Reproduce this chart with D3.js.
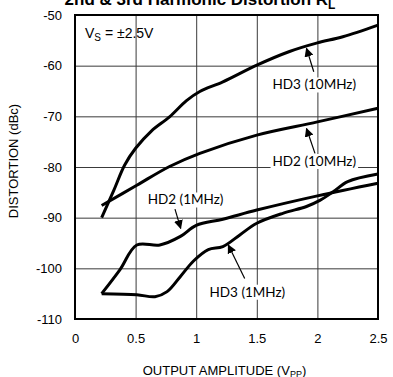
<!DOCTYPE html>
<html lang="en">
<head>
    <meta charset="UTF-8">
    <title>2nd &amp; 3rd Harmonic Distortion</title>
    <script src="https://d3js.org/d3.v7.min.js"></script>
    <style>
        html, body {
            margin: 0;
            padding: 0;
            background: #fff;
        }
        svg {
            display: block;
            font-family: "Liberation Sans", Arial, sans-serif;
        }
        .grid line {
            stroke: #3a3a3a;
            stroke-width: 1px;
        }
        .grid .domain {
            display: none;
        }
        .tick text {
            font-size: 13px;
            fill: #000;
        }
        .curve {
            fill: none;
            stroke: #000;
            stroke-width: 3px;
            stroke-linejoin: round;
        }
        .note text {
            font-family: Lato, "Open Sans", sans-serif;
            font-size: 13.5px;
        }
    </style>
</head>
<body>
    <svg width="393" height="377"></svg>

    <script>
        // values (x = output amplitude Vpp, y = dBc)
        const hd3_10MHz_x = [0.22, 0.32, 0.41, 0.50, 0.63, 0.78, 0.92, 1.03, 1.22, 1.50, 1.77, 2.00, 2.21, 2.50];
        const hd3_10MHz_y = [-90, -84.6, -79.6, -76.3, -72.9, -70.1, -66.9, -65.1, -63.2, -59.9, -57.2, -55.5, -54.3, -52];

        const hd2_10MHz_x = [0.22, 0.51, 0.78, 1.03, 1.50, 2.00, 2.50];
        const hd2_10MHz_y = [-87.6, -83.6, -79.9, -77.3, -73.7, -71.1, -68.4];

        const hd2_1MHz_x = [0.22, 0.37, 0.51, 0.70, 0.87, 1.00, 1.22, 1.50, 2.00, 2.50];
        const hd2_1MHz_y = [-105, -100.3, -95.4, -95.4, -93.7, -91.5, -90.3, -88.5, -85.7, -83.2];

        const hd3_1MHz_x = [0.22, 0.51, 0.66, 0.76, 0.87, 0.98, 1.10, 1.22, 1.36, 1.50, 1.72, 1.91, 2.02, 2.13, 2.25, 2.50];
        const hd3_1MHz_y = [-105, -105.2, -105.6, -104.6, -101.6, -98.5, -96.3, -95.7, -93.4, -91.1, -89.1, -87.8, -86.6, -84.9, -82.9, -81.4];

        const xTicks = [0, 0.5, 1, 1.5, 2, 2.5];
        const yTicks = [-50, -60, -70, -80, -90, -100, -110];

        const svg = d3.select("svg"),
            W = +svg.attr("width"),
            H = +svg.attr("height");

        const margin = { top: 15, right: 15, bottom: 58, left: 75 };
        const w = W - margin.left - margin.right,
            h = H - margin.top - margin.bottom;

        const x = d3.scaleLinear().domain([0, 2.5]).range([0, w]);
        const y = d3.scaleLinear().domain([-110, -50]).range([h, 0]);

        const g = svg.append("g")
            .attr("transform", `translate(${margin.left},${margin.top})`);

        // grid lines (ticks stretched across the plot)
        g.append("g")
            .attr("class", "grid")
            .attr("transform", `translate(0,${h})`)
            .call(d3.axisBottom(x).tickValues(xTicks).tickSize(-h).tickPadding(15)
                .tickFormat(d => d));

        g.append("g")
            .attr("class", "grid")
            .call(d3.axisLeft(y).tickValues(yTicks).tickSize(-w).tickPadding(13)
                .tickFormat(d => d));

        // frame
        g.append("rect")
            .attr("width", w)
            .attr("height", h)
            .attr("fill", "none")
            .attr("stroke", "#000")
            .attr("stroke-width", 2);

        const series = [
            [hd3_10MHz_x, hd3_10MHz_y],
            [hd2_10MHz_x, hd2_10MHz_y],
            [hd2_1MHz_x, hd2_1MHz_y],
            [hd3_1MHz_x, hd3_1MHz_y]
        ];

        const line = d3.line()
            .x(d => x(d[0]))
            .y(d => y(d[1]))
            .curve(d3.curveCatmullRom.alpha(0.5));

        g.selectAll(".curve")
            .data(series.map(s => s[0].map((v, i) => [v, s[1][i]])))
            .enter().append("path")
            .attr("class", "curve")
            .attr("d", line);

        // curve labels with arrows; label box is white so grid breaks behind it
        // (tx,ty) text start, (bx,by) arrow tail, (ax,ay) arrow tip -- all in data units
        const notes = [
            { text: "HD3 (10MHz)", tx: 1.63, ty: -64.7, bx: 1.97, by: -61.2, ax: 1.91, ay: -56.6 },
            { text: "HD2 (10MHz)", tx: 1.63, ty: -79.8, bx: 1.98, by: -77.3, ax: 1.91, ay: -72.4 },
            { text: "HD2 (1MHz)", tx: 0.60, ty: -87.4, bx: 0.825, by: -88.3, ax: 0.872, ay: -92.1 },
            { text: "HD3 (1MHz)", tx: 1.11, ty: -105.6, bx: 1.40, by: -102.0, ax: 1.265, ay: -95.4 }
        ];

        svg.append("defs").append("marker")
            .attr("id", "arr")
            .attr("viewBox", "0 0 10 10")
            .attr("refX", 9).attr("refY", 5)
            .attr("markerWidth", 9).attr("markerHeight", 9)
            .attr("markerUnits", "userSpaceOnUse")
            .attr("orient", "auto")
            .append("path")
            .attr("d", "M0,0L10,5L0,10Z")
            .attr("fill", "#000");

        const note = g.selectAll(".note")
            .data(notes)
            .enter().append("g")
            .attr("class", "note");

        const labelText = note.append("text")
            .attr("x", d => x(d.tx))
            .attr("y", d => y(d.ty))
            .text(d => d.text);

        labelText.each(function () {
            const b = this.getBBox();
            d3.select(this.parentNode).insert("rect", "text")
                .attr("x", b.x - 2).attr("y", b.y + 1)
                .attr("width", b.width + 4).attr("height", b.height - 1)
                .attr("fill", "#fff");
        });

        note.append("line")
            .attr("x1", d => x(d.bx)).attr("y1", d => y(d.by))
            .attr("x2", d => x(d.ax)).attr("y2", d => y(d.ay))
            .attr("stroke", "#000")
            .attr("stroke-width", 1.2)
            .attr("marker-end", "url(#arr)");

        // supply annotation
        const vs = g.append("text")
            .attr("x", 10)
            .attr("y", 23)
            .attr("font-size", 14);
        vs.append("tspan").text("V");
        vs.append("tspan").attr("font-size", 10).attr("dy", 3).text("S");
        vs.append("tspan").attr("dy", -3).text(" = \u00B12.5V");

        // axis titles
        const xt = svg.append("text")
            .attr("x", margin.left + w / 2 - 2)
            .attr("y", 375)
            .attr("text-anchor", "middle")
            .attr("font-size", 13);
        xt.append("tspan").text("OUTPUT AMPLITUDE (V");
        xt.append("tspan").attr("font-size", 9).attr("dy", 2).text("PP");
        xt.append("tspan").attr("dy", -2).text(")");

        svg.append("text")
            .attr("transform", `translate(18,${margin.top + h / 2 - 6}) rotate(-90)`)
            .attr("text-anchor", "middle")
            .attr("font-size", 13)
            .text("DISTORTION (dBc)");

        // title, clipped at the top like the source
        const title = svg.append("text")
            .attr("x", 200)
            .attr("y", 5)
            .attr("text-anchor", "middle")
            .attr("font-size", 17)
            .attr("font-weight", "bold");
        title.append("tspan").text("2nd & 3rd Harmonic Distortion R");
        title.append("tspan").attr("font-size", 12).attr("dy", 4).text("L");
    </script>
</body>
</html>
